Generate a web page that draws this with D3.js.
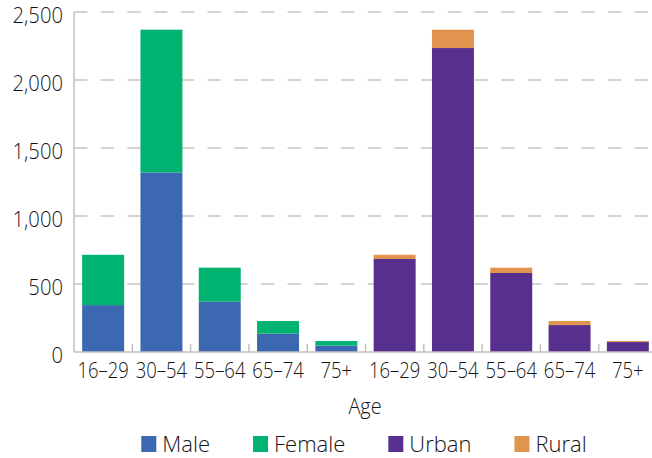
<!DOCTYPE html>
<html>
<head>
<meta charset="utf-8">
<script src="https://cdn.jsdelivr.net/npm/d3@7"></script>
<style>
  html, body { margin: 0; padding: 0; background: #fff; }
  svg { display: block; }
  text { font-family: "Open Sans", "Noto Sans", sans-serif; font-weight: 350; fill: #141414; }
</style>
</head>
<body>
<svg id="chart" width="652" height="458"></svg>
<script>
// ---- Data ----
const ages = ["16–29", "30–54", "55–64", "65–74", "75+"];
const male   = [345, 1320, 370, 135, 47];
const female = [370, 1050, 250, 93, 34];
const urban  = [684, 2235, 581, 198, 73];
const rural  = [31, 135, 39, 30, 8];
const yTicks = [0, 500, 1000, 1500, 2000, 2500];
const legendLabels = ["Male", "Female", "Urban", "Rural"];
const colors = { Male: "#3B68B0", Female: "#00B371", Urban: "#572F8E", Rural: "#E0944E" };

// ---- Layout ----
const svg = d3.select("#chart");
const mLeft = 74, mRight = 657, mTop = 12, mBottom = 352;

const cats = [];
ages.forEach((a, i) => cats.push({ key: "g" + i, label: a, grp: 0, i }));
ages.forEach((a, i) => cats.push({ key: "s" + i, label: a, grp: 1, i }));

const x = d3.scaleBand().domain(cats.map(d => d.key)).range([mLeft, mRight]).paddingInner(0.28).paddingOuter(0.14);
const y = d3.scaleLinear().domain([0, 2500]).range([mBottom, mTop]);

// gridlines
svg.append("g").selectAll("line").data(yTicks.filter(t => t > 0)).join("line")
  .attr("x1", mLeft).attr("x2", 652)
  .attr("y1", d => y(d)).attr("y2", d => y(d))
  .attr("stroke", "#d6d2d2").attr("stroke-width", 2)
  .attr("stroke-dasharray", "13.3,13.4");

// stacked bars
const rows1 = ages.map((a, i) => ({ key: "g" + i, Male: male[i], Female: female[i] }));
const rows2 = ages.map((a, i) => ({ key: "s" + i, Urban: urban[i], Rural: rural[i] }));
const st1 = d3.stack().keys(["Male", "Female"])(rows1);
const st2 = d3.stack().keys(["Urban", "Rural"])(rows2);
[...st1, ...st2].forEach(layer => {
  svg.append("g").attr("fill", colors[layer.key]).selectAll("rect").data(layer).join("rect")
    .attr("x", d => x(d.data.key))
    .attr("width", x.bandwidth())
    .attr("y", d => y(d[1]))
    .attr("height", d => y(d[0]) - y(d[1]));
});

// axes
const axisColor = "#c4bfbf";
svg.append("line").attr("x1", mLeft).attr("x2", mLeft).attr("y1", mTop).attr("y2", mBottom)
  .attr("stroke", axisColor).attr("stroke-width", 1.5);
svg.append("line").attr("x1", mLeft).attr("x2", 652).attr("y1", mBottom).attr("y2", mBottom)
  .attr("stroke", axisColor).attr("stroke-width", 1.5);
// category boundary ticks (inward)
const step = x.step();
svg.append("g").selectAll("line").data(cats.slice(1)).join("line")
  .attr("x1", d => x(d.key) - (step - x.bandwidth()) / 2)
  .attr("x2", d => x(d.key) - (step - x.bandwidth()) / 2)
  .attr("y1", mBottom - 8).attr("y2", mBottom)
  .attr("stroke", axisColor).attr("stroke-width", 1.5);

// helper: horizontally condensed text
function place(sel, fx, fy, sx) {
  sel.attr("transform", (d, i) => `translate(${fx(d, i)},${fy(d, i)}) scale(${sx},1)`);
}

// y tick labels
const fmt = d3.format(",");
const yl = svg.append("g").selectAll("text").data(yTicks).join("text")
  .attr("dy", "0.5em").attr("text-anchor", "end").attr("font-size", 22)
  .text(d => fmt(d));
place(yl, () => 63, d => y(d), 0.92);

// x tick labels
const xl = svg.append("g").selectAll("text").data(cats).join("text")
  .attr("text-anchor", "middle").attr("font-size", 22)
  .text(d => d.label);
place(xl, d => x(d.key) + x.bandwidth() / 2, () => 378, 0.84);

// axis title
const at = svg.append("text").datum(0).attr("text-anchor", "middle").attr("font-size", 22).text("Age");
place(at, () => (mLeft + mRight) / 2 - 0.5, () => 414, 0.9);

// legend
const lg = svg.append("g");
const items = legendLabels.map(l => {
  const g = lg.append("g");
  g.append("rect").attr("width", 15).attr("height", 16).attr("y", 436).attr("fill", colors[l]);
  const t = g.append("text").attr("x", 21).attr("y", 452).attr("font-size", 22).text(l);
  return { g, w: 21 + t.node().getComputedTextLength() };
});
const gap = 43;
const total = d3.sum(items, d => d.w) + gap * (items.length - 1);
let cx = 364 - total / 2;
items.forEach(it => { it.g.attr("transform", `translate(${cx},0)`); cx += it.w + gap; });
</script>
</body>
</html>
